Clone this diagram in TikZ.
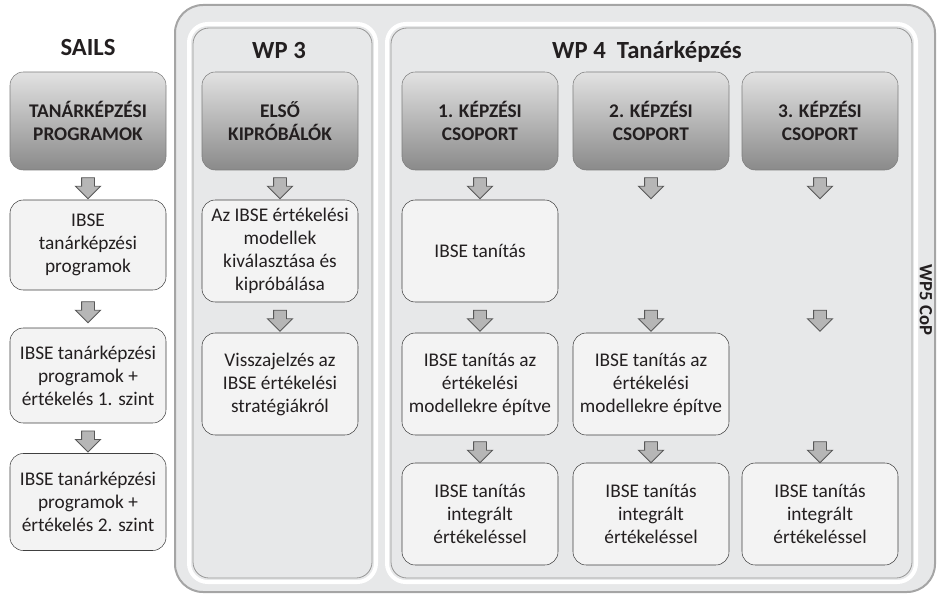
\documentclass[tikz,border=0pt]{standalone}
\usepackage{fontspec}
\setmainfont{Carlito}
\usepackage{xcolor}
\usepackage{tikz}
\usetikzlibrary{positioning,calc,shapes.arrows}
\definecolor{panelbg}{RGB}{231,232,233}
\definecolor{panelrim}{RGB}{165,165,165}
\definecolor{bevel}{RGB}{150,150,150}
\definecolor{boxfill}{RGB}{243,243,243}
\definecolor{boxrim}{RGB}{64,64,64}
\definecolor{hdrtop}{RGB}{226,226,226}
\definecolor{hdrbot}{RGB}{138,138,138}
\definecolor{hdrrim}{RGB}{125,125,125}
\definecolor{arrfill}{RGB}{182,182,182}
\definecolor{arredge}{RGB}{88,88,88}
\definecolor{ink}{RGB}{35,31,32}
\tikzset{
  hblk/.style  ={draw=hdrrim, top color=hdrtop, bottom color=hdrbot, rounded corners=10pt,
                 align=center, font=\fontsize{14.5}{17}\selectfont\bfseries, text=ink,
                 minimum width=117pt, minimum height=73.5pt, inner sep=2pt},
  wblk/.style  ={draw=boxrim, fill=boxfill, rounded corners=10pt, align=center,
                 font=\fontsize{14.5}{17.25}\selectfont, text=ink, thin,
                 minimum width=117pt, inner sep=2pt},
  darr/.style  ={single arrow, rotate=-90, draw=arredge, fill=arrfill, line width=0.7pt,
                 inner xsep=0pt, inner ysep=4.5pt, minimum height=15.75pt,
                 single arrow head extend=4.5pt, single arrow tip angle=90},
  ttl/.style   ={font=\fontsize{18.5}{22}\selectfont\bfseries, text=ink},
  panel/.style ={draw=white, line width=3pt, fill=panelbg, rounded corners=14pt},
  rim/.style   ={draw=bevel, line width=0.6pt, rounded corners=12pt},
}
\begin{document}
\begin{tikzpicture}[x=0.75pt,y=-0.75pt]
\useasboundingbox (0,0) rectangle (938,599);

% WP5 frame and the two inner panels
\draw[draw=panelrim, line width=1.5pt, fill=panelbg, rounded corners=21pt] (175,5) rectangle (935,592);
\draw[panel] (189,24) rectangle (376,582);
\draw[rim] (193,28) rectangle (372,578);
\draw[panel] (387,24) rectangle (916,582);
\draw[rim] (391,28) rectangle (912,578);
\node[font=\fontsize{14}{16}\selectfont\bfseries, text=ink, rotate=-90] (wp5) at (926,300) {WP5 CoP};

% SAILS column
\node[ttl] (sails) at (88,47) {SAILS};
\node[hblk] (s0) at (88,121) {TANÁRKÉPZÉSI\\PROGRAMOK};
\node[wblk, minimum height=67.5pt] (s1) at (88,245) {IBSE\\tanárképzési\\programok};
\node[wblk, minimum height=71.25pt] (s2) at (88,375.5) {IBSE tanárképzési\\programok +\\értékelés 1. szint};
\node[wblk, minimum height=72.75pt] (s3) at (88,502) {IBSE tanárképzési\\programok +\\értékelés 2. szint};
\node[darr] (sa1) at ($(s0.south)!.5!(s1.north)$) {};
\node[darr] (sa2) at ($(s1.south)!.5!(s2.north)$) {};
\node[darr] (sa3) at ($(s2.south)!.5!(s3.north)$) {};

% WP3 column
\node[ttl] (wp3) at (279,50) {WP 3};
\node[hblk] (e0) at (280,121) {ELSŐ\\KIPRÓBÁLÓK};
\node[wblk, minimum height=76.5pt] (e1) at (280,251) {Az IBSE értékelési\\modellek\\kiválasztása és\\kipróbálása};
\node[wblk, minimum height=76.5pt] (e2) at (280,384) {Visszajelzés az\\IBSE értékelési\\stratégiákról};
\node[darr] (ea1) at ($(e0.south)!.5!(e1.north)$) {};
\node[darr] (ea2) at ($(e1.south)!.5!(e2.north)$) {};

% WP4 columns
\node[ttl] (wp4) at (647,52) {WP 4~~Tanárképzés};
\node[hblk] (g1) at (480,121) {1. KÉPZÉSI\\CSOPORT};
\node[hblk] (g2) at (651,121) {2. KÉPZÉSI\\CSOPORT};
\node[hblk] (g3) at (820,121) {3. KÉPZÉSI\\CSOPORT};
\node[wblk, minimum height=76.5pt] (t1) at (480,251) {IBSE tanítás};
\node[wblk, minimum height=76.5pt] (m1) at (480,384) {IBSE tanítás az\\értékelési\\modellekre építve};
\node[wblk, minimum height=76.5pt] (m2) at (651,384) {IBSE tanítás az\\értékelési\\modellekre építve};
\node[wblk, minimum height=76.5pt] (i1) at (480,514) {IBSE tanítás\\integrált\\értékeléssel};
\node[wblk, minimum height=76.5pt] (i2) at (651,514) {IBSE tanítás\\integrált\\értékeléssel};
\node[wblk, minimum height=76.5pt] (i3) at (820,514) {IBSE tanítás\\integrált\\értékeléssel};

\node[darr] (ga1) at ($(g1.south)!.5!(t1.north)$) {};
\node[darr] (ga2) at ($(t1.south)!.5!(m1.north)$) {};
\node[darr] (ga3) at ($(m1.south)!.5!(i1.north)$) {};
\node[darr] (gb1) at (g2 |- ga1) {};
\node[darr] (gb2) at (g2 |- ga2) {};
\node[darr] (gb3) at (g2 |- ga3) {};
\node[darr] (gc1) at (g3 |- ga1) {};
\node[darr] (gc2) at (g3 |- ga2) {};
\node[darr] (gc3) at (g3 |- ga3) {};
\end{tikzpicture}
\end{document}
